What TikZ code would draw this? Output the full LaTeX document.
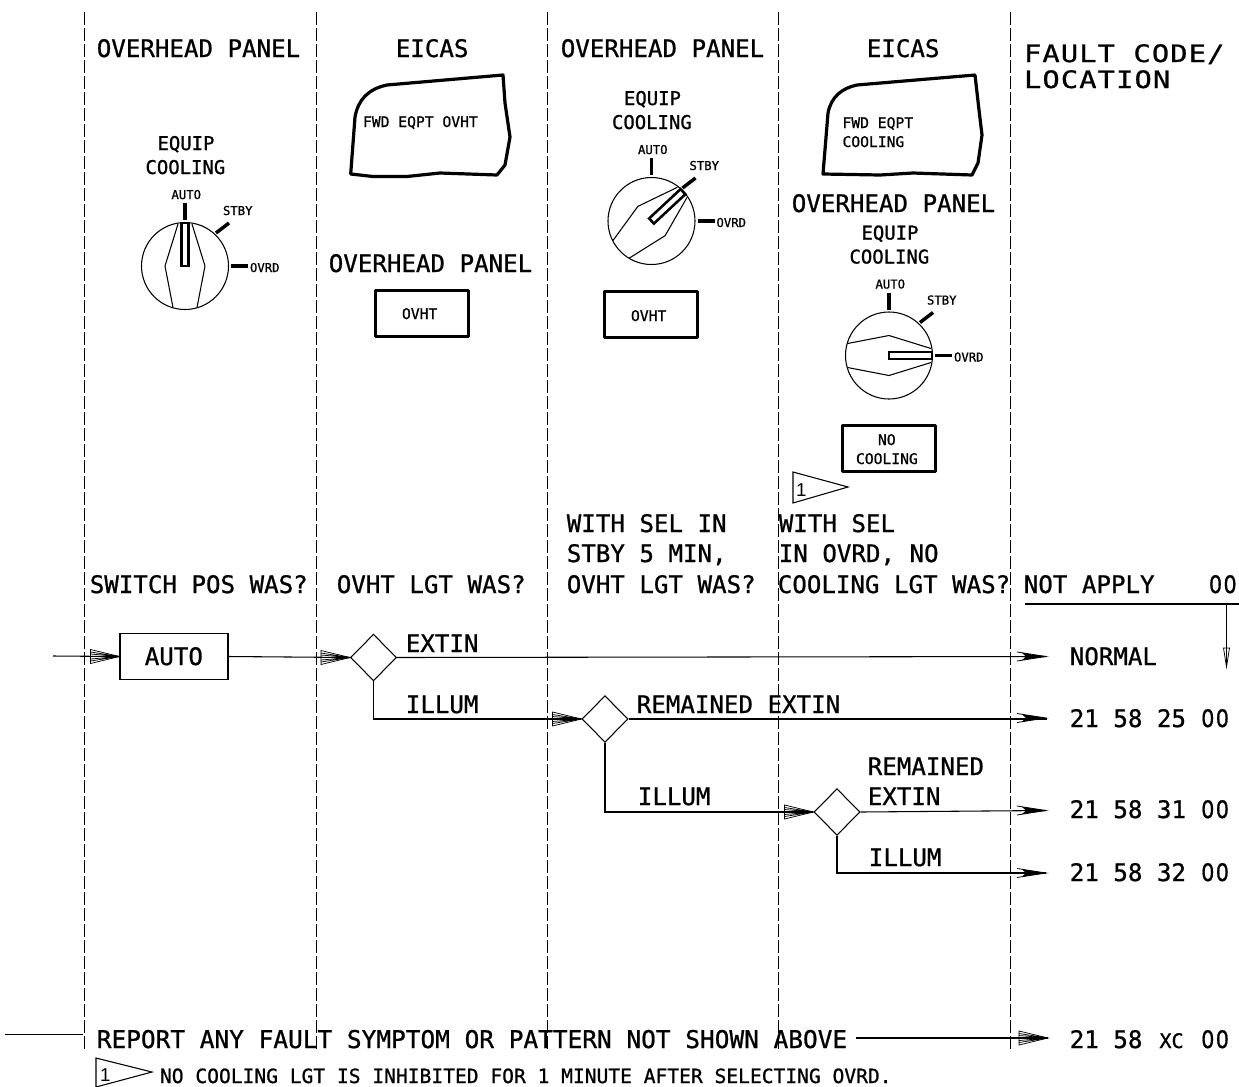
\documentclass[tikz,border=0pt]{standalone}
\usepackage{fontspec}
\usepackage{graphicx}
\usetikzlibrary{shapes.geometric}
\setmainfont[FakeBold=0.9]{DejaVu Sans Mono}
\newfontfamily\spacedf[FakeStretch=1.2,LetterSpace=4.5,FakeBold=0.9]{DejaVu Sans Mono}
\newfontfamily\plainzero[FakeBold=0.9]{DejaVu Sans}
\newfontfamily\numf{Liberation Sans}
\newcommand{\zz}{\makebox[0.602em]{\scalebox{.86}[1]{\plainzero 0}}}
\tikzset{
  x=0.75pt,y=-0.75pt,
  thinln/.style={line width=0.8pt,black},
  lbl/.style={anchor=base west,inner sep=0pt,outer sep=0pt,text=black},
  bigt/.style={lbl,xshift=0.6pt,font=\fontsize{18.1}{20}\selectfont},
  wide/.style={lbl,font=\fontsize{18}{20}\spacedf},
  midt/.style={lbl,font=\fontsize{14.2}{16}\selectfont},
  smallt/.style={lbl,font=\fontsize{11}{13}\selectfont},
  tinyt/.style={lbl,font=\fontsize{9.2}{11}\selectfont},
  notet/.style={lbl,font=\fontsize{14.7}{16}\selectfont},
  numt/.style={lbl,font=\fontsize{14}{16}\numf},
  guide/.style={line width=0.75pt,black,dash pattern=on 9.5pt off 2.5pt},
  lamp/.style={draw,line width=2.4pt,inner sep=0pt,minimum width=70pt,minimum height=34.5pt,line join=round},
  screen/.style={draw,line width=2.4pt,line join=round},
  flowbox/.style={draw,thinln,inner sep=0pt,minimum width=81pt,minimum height=34.5pt},
  decision/.style={diamond,draw,thinln,inner sep=0pt,minimum width=34.5pt,minimum height=35pt},
  tag/.style={draw,thinln,line join=miter},
  tickmark/.style={line width=2.6pt,black},
}
% rotary selector: #1 name, #2 centre, #3 knob angle
\newcommand{\dial}[3]{%
  \begin{scope}[shift={(#2)}]
    \draw[thinln] (0,0) circle[radius=43.5];
    \draw[tickmark] (0,-63) -- (0,-46);
    \draw[tickmark] (31,-33) -- (44,-43);
    \draw[tickmark] (46,0) -- (63,0);
    \begin{scope}[rotate=-#3]
      \draw[thinln] (-7,-42) -- (-20,0) -- (-12,41.5);
      \draw[thinln] (7,-42) -- (20,0) -- (12,41.5);
      \draw[line width=1.9pt,black,fill=white] (-3.5,-43) rectangle (3.5,0);
    \end{scope}
    \node[midt] (#1eq) at (-27.5,-116) {EQUIP};
    \node[midt] (#1co) at (-39.5,-92) {COOLING};
    \node[tinyt] (#1au) at (-13.5,-67) {AUTO};
    \node[tinyt] (#1st) at (38,-51) {STBY};
    \node[tinyt] (#1ov) at (65,6) {OVRD};
  \end{scope}}
% hatched arrow head ending at a named point, pointing right
\newcommand{\hatchhead}[1]{%
  \begin{scope}[shift={(#1)}]
    \draw[line width=0.55pt] (-29,-7) -- (-29,7) -- (0,0) -- cycle;
    \draw[line width=0.55pt] (-29,-4.5) -- (0,0) (-29,-2.5) -- (0,0) (-29,2.5) -- (0,0) (-29,4.5) -- (0,0);
    \fill (-14,-1.6) -- (0,0) -- (-14,1.6) -- cycle;
    \draw[line width=1pt] (-29,0) -- (0,0);
  \end{scope}}
\newcommand{\barbhead}[1]{%
  \begin{scope}[shift={(#1)}]
    \draw[line width=0.6pt] (-29,-4.5) -- (0,0) -- (-29,4.5);
    \fill (-24,-3.6) -- (0,0) -- (-24,3.6) -- (-20,0) -- cycle;
  \end{scope}}
\begin{document}
\begin{tikzpicture}
\useasboundingbox[fill=white] (0,0) rectangle (1239,1086);

% column separators
\coordinate (g1a) at (84,12);    \coordinate (g1b) at (84,1049);
\coordinate (g2a) at (316,12);   \coordinate (g2b) at (316,1049);
\coordinate (g3a) at (547,12);   \coordinate (g3b) at (547,1049);
\coordinate (g4a) at (778.5,12); \coordinate (g4b) at (778.5,1049);
\coordinate (g5a) at (1010,12);  \coordinate (g5b) at (1010,1049);
\foreach \i in {1,...,5} \draw[guide] (g\i a) -- (g\i b);

% headers
\node[bigt] (h1) at (96,57) {OVERHEAD PANEL};
\node[bigt] (h2) at (395,57) {EICAS};
\node[bigt] (h3) at (560,57) {OVERHEAD PANEL};
\node[bigt] (h4) at (866,57) {EICAS};
\node[wide] (h5) at (1024,62) {FAULT CODE/};
\node[wide] (h6) at (1024,88) {LOCATION};

% dials
\dial{da}{185,266}{0}
\dial{db}{651.5,221}{47}
\dial{dc}{889,355.5}{90}

% EICAS screens
\draw[screen] (350.7,174) -- (355,117) .. controls (358,100) and (368,89) .. (387,85)
  -- (503,75) -- (505,103) -- (510,137) -- (505,165) -- (497,175) -- (440,173) -- (407,176.5) -- (373,176.5) -- cycle;
\node[smallt] (s1) at (363,127) {FWD EQPT OVHT};
\draw[screen] (823,174) -- (828,113) .. controls (831,97) and (842,88) .. (857,85)
  -- (975,75) -- (979,110) -- (982,135) -- (978,163) -- (972,175) -- (913,173) -- (880,175) -- cycle;
\node[smallt] (s2) at (842.5,128) {FWD EQPT};
\node[smallt] (s3) at (842.5,147) {COOLING};

% overhead panels and lamps
\node[bigt] (p2) at (328,272) {OVERHEAD PANEL};
\node[lamp] (l1) at (422,313.5) {};
\node[smallt] (l1t) at (402,319) {OVHT};
\node[lamp] (l2) at (651,314.5) {};
\node[smallt] (l2t) at (631,321) {OVHT};
\node[bigt] (p4) at (791,212) {OVERHEAD PANEL};
\node[lamp] (l3) at (889,448.5) {};
\node[smallt] (l3a) at (878,445) {NO};
\node[smallt] (l3b) at (856,464) {COOLING};

% note flags
\draw[tag] (793,472) -- (793,503) -- (848,487) -- cycle;
\node[numt] (f1) at (796,496) {1};
\draw[tag] (96,1058) -- (96,1087) -- (152,1072) -- cycle;
\node[numt] (f2) at (100,1081) {1};

% questions
\node[bigt] (q1) at (89,593) {SWITCH POS WAS?};
\node[bigt] (q2) at (336,593) {OVHT LGT WAS?};
\node[bigt] (q3a) at (566,532) {WITH SEL IN};
\node[bigt] (q3b) at (566,562) {STBY 5 MIN,};
\node[bigt] (q3c) at (566,593) {OVHT LGT WAS?};
\node[bigt] (q4a) at (778,532) {WITH SEL};
\node[bigt] (q4b) at (778,562) {IN OVRD, NO};
\node[bigt] (q4c) at (777,593) {COOLING LGT WAS?};
\node[bigt] (na) at (1023,593) {NOT APPLY};
\node[bigt] (nb) at (1207.5,593) {\zz\zz};

% not-apply rule and arrow
\coordinate (ra) at (1025,604); \coordinate (rb) at (1239,604);
\coordinate (rc) at (1226.5,604); \coordinate (rd) at (1226.5,667);
\draw[thinln] (ra) -- (rb);
\draw[thinln] (rc) -- (rd);
\draw[line width=0.55pt] (1223.5,648) -- (1229.5,648) -- (rd) -- cycle;

% flow
\coordinate (in) at (53,656);
\node[flowbox] (auto) at (174,656.5) {};
\node[bigt] (autot) at (144,665) {AUTO};
\node[decision] (d1) at (373.5,657.5) {};
\node[decision] (d2) at (605,719) {};
\node[decision] (d3) at (837,812) {};
\coordinate (c1) at (1046,656.5);
\coordinate (c2) at (1046,718);
\coordinate (c3) at (1046,810.5);
\coordinate (c4) at (1046,873);

\draw[thinln] (in) -- (auto.west);
\hatchhead{auto.west}
\draw[thinln] (auto.east) -- (d1.west);
\hatchhead{d1.west}
\draw[thinln] (d1.east) -- (c1);
\barbhead{c1}
\draw[thinln] (d1.south) |- (d2.west);
\hatchhead{d2.west}
\draw[thinln] (d2.east) -- (d2.east -| c2) -- (c2);
\barbhead{c2}
\draw[thinln] (d2.south) |- (d3.west);
\hatchhead{d3.west}
\draw[thinln] (d3.east) -- (c3);
\barbhead{c3}
\draw[thinln] (d3.south) |- (c4);
\barbhead{c4}

% flow labels
\node[bigt] (e1) at (405,652) {EXTIN};
\node[bigt] (i1) at (405,713) {ILLUM};
\node[bigt] (e2) at (636,713) {REMAINED EXTIN};
\node[bigt] (i2) at (637,805) {ILLUM};
\node[bigt] (e3a) at (867,775) {REMAINED};
\node[bigt] (e3b) at (867,805) {EXTIN};
\node[bigt] (i3) at (868,866) {ILLUM};

% results
\node[bigt] (r1) at (1069,665) {NORMAL};
\node[bigt] (r2) at (1069,727) {21 58 25 \zz\zz};
\node[bigt] (r3) at (1069,818) {21 58 31 \zz\zz};
\node[bigt] (r4) at (1069,881) {21 58 32 \zz\zz};
\node[bigt] (r5) at (1069,1048) {21 58 \makebox[1.204em]{\fontsize{15}{16}\selectfont XC} \zz\zz};

% catch-all row
\coordinate (b0) at (5,1034.5); \coordinate (b1) at (83,1034.5);
\draw[thinln] (b0) -- (b1);
\node[bigt,font=\fontsize{18.33}{20}\selectfont] (rep) at (96,1048) {REPORT ANY FAULT SYMPTOM OR PATTERN NOT SHOWN ABOVE};
\coordinate (b2) at (856,1038); \coordinate (b3) at (1048,1038);
\draw[thinln] (b2) -- (b3);
\hatchhead{b3}
\node[notet] (nt) at (160,1083) {NO COOLING LGT IS INHIBITED FOR 1 MINUTE AFTER SELECTING OVRD.};
\end{tikzpicture}
\end{document}
